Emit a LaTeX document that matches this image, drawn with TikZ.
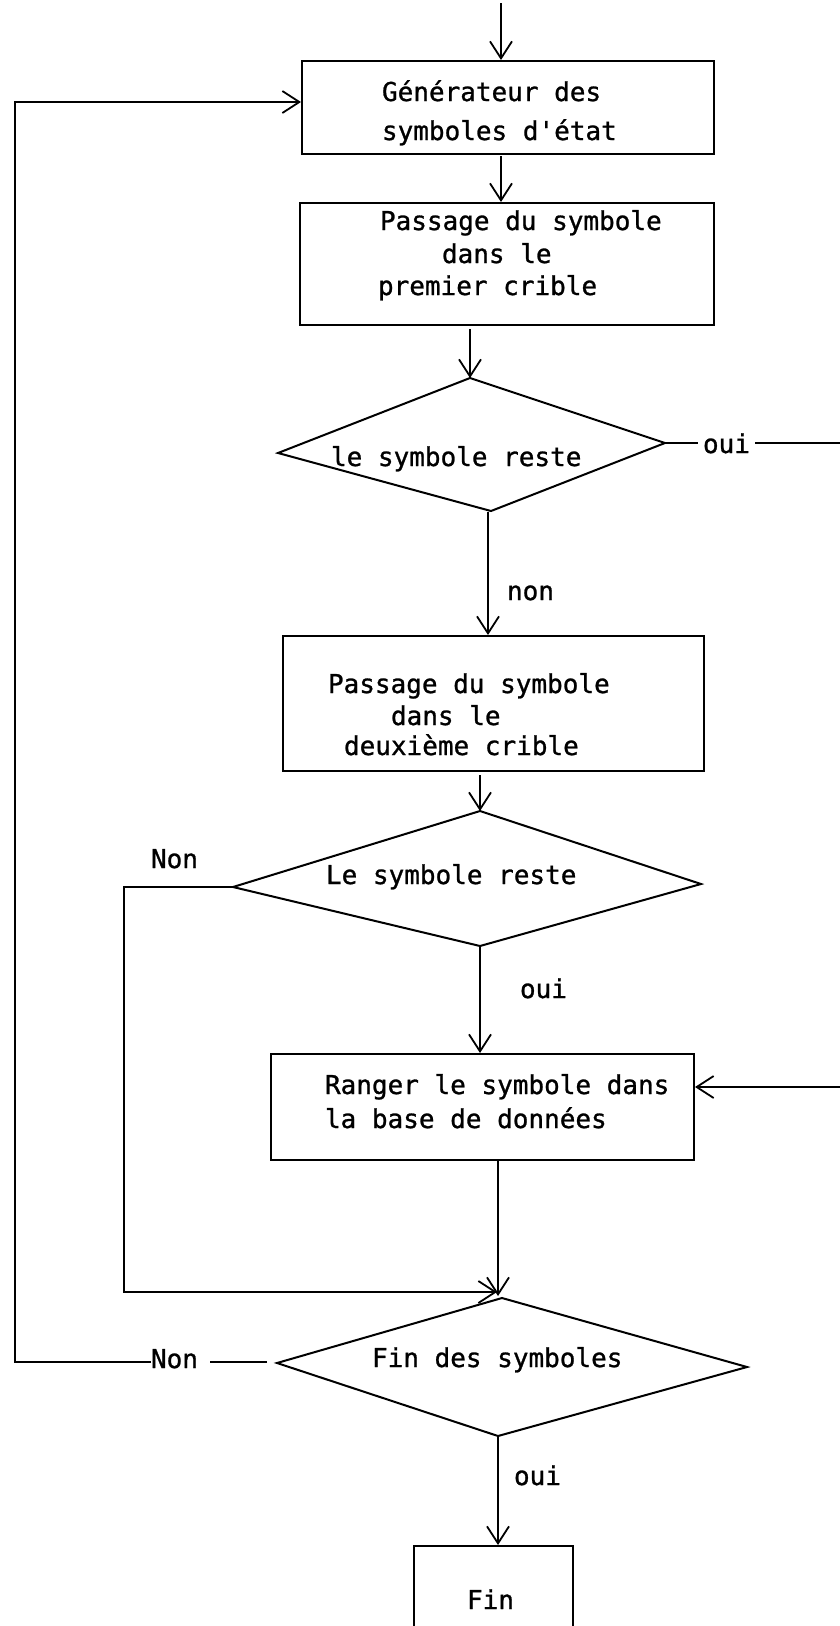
\documentclass[tikz,border=0pt]{standalone}
\usepackage{fontspec}
\newfontfamily\monof[FakeBold=1.0]{DejaVu Sans Mono}
\usetikzlibrary{arrows.meta}
\begin{document}
\begin{tikzpicture}[x=1pt,y=-1pt,
  line width=2pt,
  box/.style={draw, line width=2pt, inner sep=0pt, anchor=north west},
  txt/.style={font=\monof\fontsize{26}{34}\selectfont, inner sep=0pt, anchor=base west},
  lab/.style={txt, fill=white, inner xsep=5pt},
  arr/.style={-{Straight Barb[length=17pt,width=22pt,line width=1.8pt]}},
]
\useasboundingbox (0,0) rectangle (840,1626);

% boxes
\node[box, minimum width=412pt, minimum height=93pt]  (b1) at (301,60) {};
\node[box, minimum width=414pt, minimum height=122pt] (b2) at (299,202) {};
\node[box, minimum width=421pt, minimum height=135pt] (b3) at (282,635) {};
\node[box, minimum width=423pt, minimum height=106pt] (b4) at (270,1053) {};
\node[box, minimum width=159pt, minimum height=110pt] (b5) at (413,1545) {};

% box texts
\node[txt] (t1a) at (381,101) {Générateur des};
\node[txt] (t1b) at (381,140) {symboles d'état};
\node[txt] (t2a) at (379,230) {Passage du symbole};
\node[txt] (t2b) at (441,263) {dans le};
\node[txt] (t2c) at (377,295) {premier crible};
\node[txt] (t3a) at (327,693) {Passage du symbole};
\node[txt] (t3b) at (390,725) {dans le};
\node[txt] (t3c) at (343,755) {deuxième crible};
\node[txt] (t4a) at (324,1094) {Ranger le symbole dans};
\node[txt] (t4b) at (324,1128) {la base de données};
\node[txt] (t5) at (466,1609) {Fin};

% diamonds
\coordinate (d1t) at (470,378); \coordinate (d1r) at (665,443);
\coordinate (d1b) at (491,511); \coordinate (d1l) at (278,453);
\draw (d1t) -- (d1r) -- (d1b) -- (d1l) -- cycle;
\node[txt] (d1) at (330,466) {le symbole reste};

\coordinate (d2t) at (480,811); \coordinate (d2r) at (701,884);
\coordinate (d2b) at (480,946); \coordinate (d2l) at (233,887);
\draw (d2t) -- (d2r) -- (d2b) -- (d2l) -- cycle;
\node[txt] (d2) at (325,884) {Le symbole reste};

\coordinate (d3t) at (502,1298); \coordinate (d3r) at (747,1367);
\coordinate (d3b) at (498,1436); \coordinate (d3l) at (277,1363);
\draw (d3t) -- (d3r) -- (d3b) -- (d3l) -- cycle;
\node[txt] (d3) at (371,1367) {Fin des symboles};

% connectors
\coordinate (start) at (501,3);
\draw[arr] (start) -- (start |- b1.north);
\coordinate (c12) at (501,156);
\draw[arr] (c12) -- (c12 |- b2.north);
\draw[arr] (d1t |- b2.south) ++(0,3) -- (d1t);
\coordinate (c1b) at (488,512);
\draw[arr] (c1b) -- (c1b |- b3.north);
\draw[arr] (d2t |- b3.south) ++(0,3) -- (d2t);
\draw[arr] (d2b) -- (d2b |- b4.north);
\coordinate (c4b) at (498,1159);
\draw[arr] (c4b) -- (498,1296);

% oui branch from first diamond to box 4
\coordinate (rx) at (852,443);
\draw[arr] (d1r) -- (rx) -- (rx |- 0,1087) -- (b4.east |- 0,1087);
\node[lab] (oui1) at (697,453) {oui};

% Non branch from second diamond
\coordinate (lx) at (124,887);
\coordinate (ly) at (124,1292);
\draw[arr] (d2l) -- (lx) -- (ly) -- (497,1292);
\node[txt] (non2) at (150,868) {Non};

% Non branch from third diamond back to generator
\coordinate (bx) at (15,1362);
\draw[arr] (d3l) ++(-10,-1) -- (bx) -- (bx |- 0,102) -- (b1.west |- 0,102);
\node[txt, fill=white, inner xsep=0pt] (non3) at (150,1368) {Non\kern12pt\null};

% oui branch to Fin
\draw[arr] (d3b) -- (d3b |- b5.north);

% edge labels
\node[txt] (non1) at (506,600) {non};
\node[txt] (oui2) at (519,998) {oui};
\node[txt] (oui3) at (513,1485) {oui};
\end{tikzpicture}
\end{document}
